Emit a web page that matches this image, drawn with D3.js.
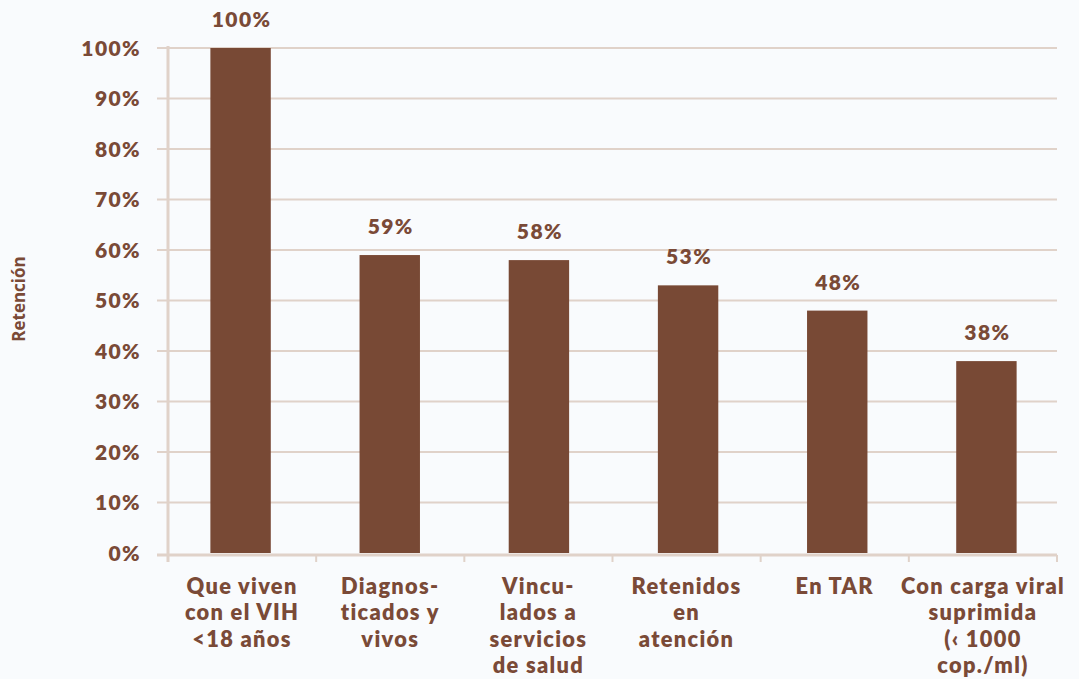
<!DOCTYPE html>
<html><head><meta charset="utf-8">
<script src="https://cdn.jsdelivr.net/npm/d3@7"></script>
<style>
body{margin:0;background:#f9fbfd;}
svg{display:block;}
</style></head>
<body><svg id="c" width="1079" height="679"></svg>
<script>
const categories = [
  ["Que viven","con el VIH","<18 años"],
  ["Diagnos-","ticados y","vivos"],
  ["Vincu-","lados a","servicios","de salud"],
  ["Retenidos","en","atención"],
  ["En TAR"],
  ["Con carga viral","suprimida","(\u2039 1000","cop./ml)"]
];
const values = [100, 59, 58, 53, 48, 38];
const yTicks = [0,10,20,30,40,50,60,70,80,90,100];
const yTitle = "Retención";

const txt = "#7a4a37", bar = "#784935", grid = "#e0d2c9";
const svg = d3.select("#c");
const x0 = 168, x1 = 1057, yTop = 48, yBot = 553;
const ids = categories.map((d,i)=>i);
const x = d3.scaleBand().domain(ids).range([166,1061]).paddingInner(0.595).paddingOuter(0.2975);
const y = d3.scaleLinear().domain([0,100]).range([yBot,yTop]);

// gridlines
svg.append("g").selectAll("line").data(yTicks.filter(t=>t>0)).join("line")
  .attr("x1",157).attr("x2",x1).attr("y1",d=>y(d)).attr("y2",d=>y(d))
  .attr("stroke",grid).attr("stroke-width",2.2);

// bars
svg.append("g").selectAll("rect").data(values).join("rect")
  .attr("x",(d,i)=>x(i)).attr("width",x.bandwidth())
  .attr("y",d=>y(d)).attr("height",d=>yBot-y(d)).attr("fill",bar);

// x axis line
svg.append("line").attr("x1",157).attr("x2",x1).attr("y1",yBot+2).attr("y2",yBot+2)
  .attr("stroke",grid).attr("stroke-width",3);
// y axis line
svg.append("line").attr("x1",x0).attr("x2",x0).attr("y1",yTop-2).attr("y2",yBot+9)
  .attr("stroke",grid).attr("stroke-width",3);
// category ticks
const bounds = d3.range(categories.length+1).map(i=>x0+i*(x1-x0)/categories.length);
svg.append("g").selectAll("line").data(bounds).join("line")
  .attr("x1",d=>d).attr("x2",d=>d).attr("y1",yBot+2).attr("y2",yBot+9)
  .attr("stroke",grid).attr("stroke-width",2);

// y tick labels
svg.append("g").selectAll("text").data(yTicks).join("text")
  .attr("x",141).attr("y",d=>y(d)).attr("dy","0.36em")
  .attr("text-anchor","end").attr("fill",txt)
  .attr("font-family","Lato, 'Open Sans', sans-serif").attr("font-weight",800)
  .attr("font-size",21).style("letter-spacing","1.4px")
  .text(d=>d+"%");

// value labels
svg.append("g").selectAll("text").data(values).join("text")
  .attr("x",(d,i)=>x(i)+x.bandwidth()/2+1).attr("y",d=>y(d)-21)
  .attr("text-anchor","middle").attr("fill",txt)
  .attr("font-family","Lato, 'Open Sans', sans-serif").attr("font-weight",800)
  .attr("font-size",21).style("letter-spacing","1.4px")
  .text(d=>d+"%");

// category labels (one text per line)
const lineData = [];
categories.forEach((lines,i)=>{
  const cx = (bounds[i]+bounds[i+1])/2;
  lines.forEach((s,j)=>lineData.push({s, cx, j}));
});
svg.append("g").selectAll("text").data(lineData).join("text")
  .attr("x",d=>d.cx).attr("y",d=>594+d.j*26.3)
  .attr("text-anchor","middle").attr("fill",txt)
  .attr("font-family","Lato, 'Open Sans', sans-serif").attr("font-weight",800)
  .attr("font-size",21.8).style("letter-spacing","1.3px")
  .text(d=>d.s);

// y title
svg.append("text").attr("transform","translate(25,299) rotate(-90)")
  .attr("text-anchor","middle").attr("fill",txt)
  .attr("font-family","'Open Sans', Lato, sans-serif").attr("font-weight",700)
  .attr("font-size",17).text(yTitle);
</script></body></html>
